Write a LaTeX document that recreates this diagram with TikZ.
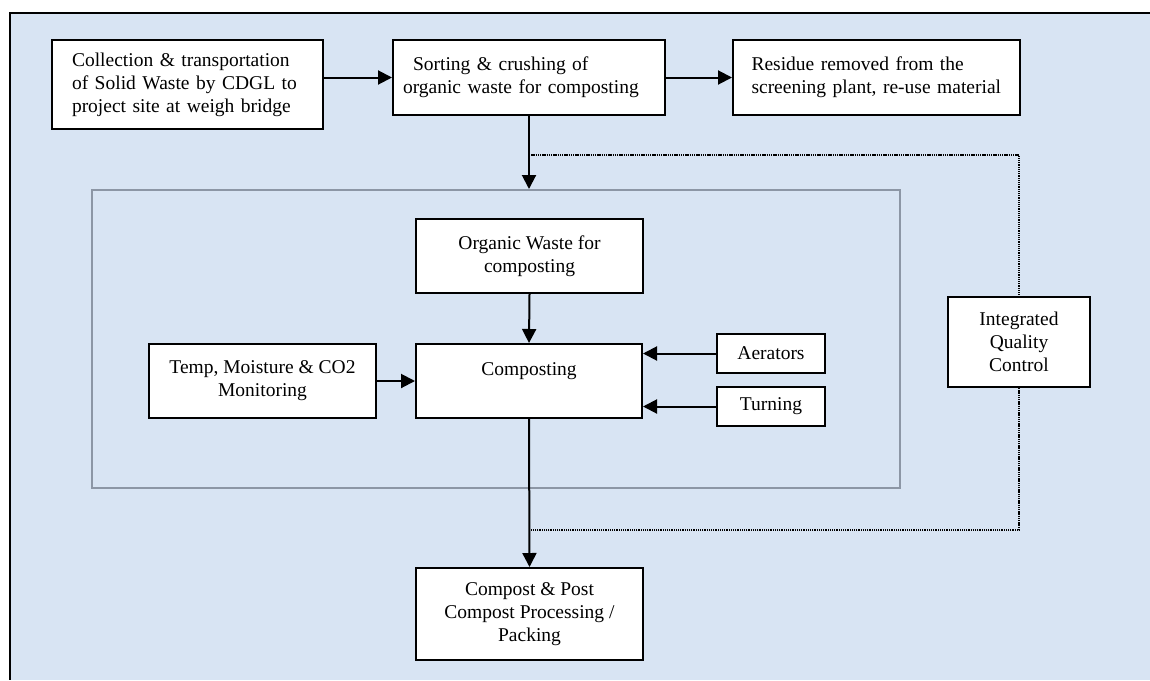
\documentclass[tikz,border=0pt]{standalone}
\usepackage{fontspec}
\setmainfont{Liberation Serif}
\usetikzlibrary{arrows.meta}
\definecolor{bgblue}{RGB}{216,228,243}
\definecolor{framegray}{RGB}{140,150,165}
\begin{document}
\begin{tikzpicture}[x=1pt,y=-1pt,
  box/.style={draw=black, fill=white, line width=2pt, font=\fontsize{19.5}{23}\selectfont, inner sep=0pt, align=center},
  arr/.style={line width=2pt, -{Triangle[length=14pt,width=14pt]}},
  dotline/.style={line width=1.5pt, dash pattern=on 1.3pt off 0.9pt}]
\useasboundingbox (0,0) rectangle (1150,680);
\fill[white] (0,0) rectangle (1150,680);
\fill[bgblue] (10,13) rectangle (1150,680);
\draw[line width=2pt] (1150,13) -- (10,13) -- (10,680);

% inner grey frame
\node[draw=framegray, line width=2pt, minimum width=808pt, minimum height=298pt, inner sep=0pt] (inner) at (496,339) {};

% top row
\node[box, align=left, text width=231pt, inner xsep=20pt, minimum height=89pt] (c1) at (187.5,84.5)
  {Collection \& transportation\\of Solid Waste by CDGL to\\project site at weigh bridge};
\node[box, align=left, text width=252pt, inner xsep=10pt, minimum height=75pt] (s) at (529,77.5)
  {\hspace*{10pt}Sorting \& crushing of\\organic waste for composting};
\node[box, align=left, text width=250pt, inner xsep=18.5pt, minimum height=75pt] (r) at (876.5,77.5)
  {Residue removed from the\\screening plant, re-use material};

% inner nodes
\node[box, minimum width=227pt, minimum height=74pt] (org) at (529.5,256) {Organic Waste for\\composting};
\node[box, minimum width=227pt, minimum height=74pt] (temp) at (262.5,381) {Temp, Moisture \& CO2\\Monitoring};
\node[box, minimum width=226pt, minimum height=74pt] (comp) at (529,381) {Composting\\\mbox{}};
\node[box, minimum width=108pt, minimum height=39pt] (aer) at (771,353.5) {Aerators};
\node[box, minimum width=108pt, minimum height=39pt] (turn) at (771,406.5) {Turning};

% right and bottom
\node[box, minimum width=142pt, minimum height=90pt] (iqc) at (1019,342) {Integrated\\Quality\\Control};
\node[box, minimum width=227pt, minimum height=92pt] (cp) at (529.5,614) {Compost \& Post\\Compost Processing /\\Packing};

% coordinates for the dotted loop
\coordinate (d1) at (529,155);
\coordinate (d2) at (529,530);

% dotted quality-control loop
\draw[dotline] (d1) -| (iqc.north);
\draw[dotline] (iqc.south) |- (d2);

% arrows
\draw[arr] (c1.east |- s.west) -- (s.west);
\draw[arr] (s.east) -- (r.west);
\draw[arr] (s.south) -- (s.south |- inner.north);
\draw[arr] (org.south) -- (comp.north);
\draw[arr] (temp.east) -- (comp.west);
\draw[arr] (aer.west) -- (comp.east |- aer.west);
\draw[arr] (turn.west) -- (comp.east |- turn.west);
\draw[arr] (comp.south) -- (cp.north);
\end{tikzpicture}
\end{document}
